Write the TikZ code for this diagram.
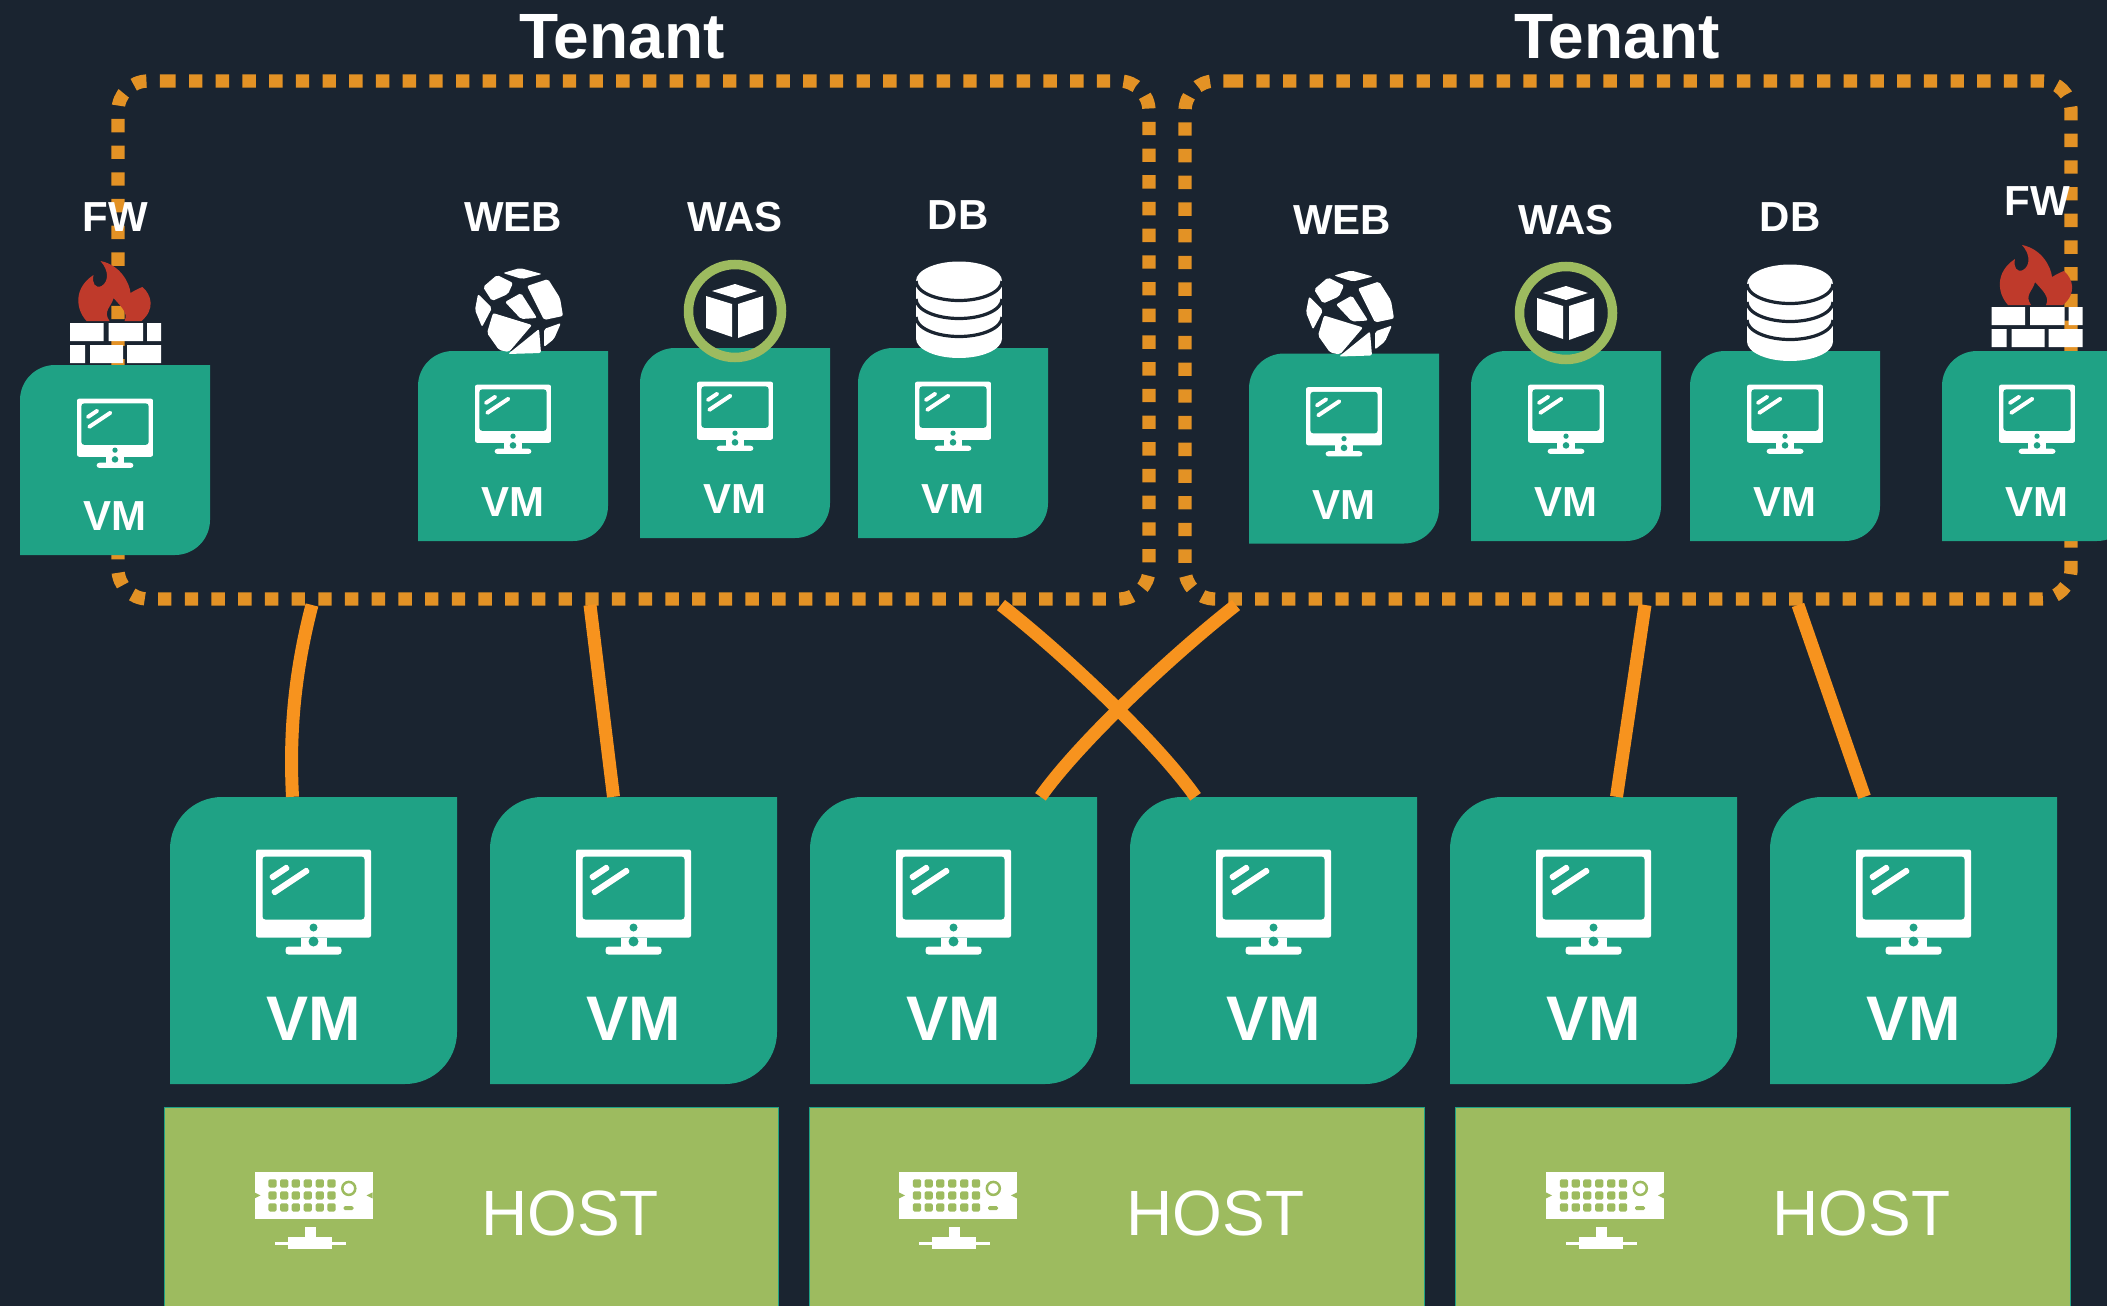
\documentclass[tikz,border=0pt]{standalone}
\usepackage{fontspec}
\setmainfont{Liberation Sans}

\definecolor{night}{HTML}{1A2430}
\definecolor{vmgreen}{HTML}{1FA285}
\definecolor{hostgreen}{HTML}{9DBB5F}
\definecolor{dotorange}{HTML}{E39225}
\definecolor{linkorange}{HTML}{F7931E}
\definecolor{firered}{HTML}{BF3A2B}

\newcommand{\tileshape}[1]{\fill[vmgreen] (path picture bounding box.north east) [rounded corners=#1]
    -- (path picture bounding box.south east) [sharp corners]
    -- (path picture bounding box.south west) [rounded corners=#1]
    -- (path picture bounding box.north west) [sharp corners] -- cycle;}

\tikzset{
    monitor/.pic={
        \fill[white,rounded corners=2] (-57.5,-52) rectangle (57.5,36);
        \fill[vmgreen,rounded corners=3] (-51,-45) rectangle (51,18);
        \fill[white] (-13,36) rectangle (13,46);
        \fill[white,rounded corners=3] (-28,45) rectangle (28,53);
        \fill[vmgreen] (0,26) circle (4) (0,40) circle (5);
        \fill[white,rounded corners=1.5] (-44.7,-25.5) -- (-26.7,-37.5) -- (-23.3,-32.5) -- (-41.3,-20.5) -- cycle;
        \fill[white,rounded corners=1.5] (-42.7,-10.5) -- (-6.7,-34.5) -- (-3.3,-29.5) -- (-39.3,-5.5) -- cycle;
    },
    rack/.pic={
        \fill[white] (-59,-23.5) rectangle (59,23.5);
        \fill[hostgreen] (-59,-3) -- (-53,0) -- (-59,3) -- cycle (59,-3) -- (53,0) -- (59,3) -- cycle;
        \foreach \cx in {-41,-29.3,-17.7,-5.7,6.3,18} {
            \foreach \cy in {-12,0,12} {
                \fill[hostgreen,rounded corners=1.5] (\cx-4.1,\cy-4.1) rectangle (\cx+4.1,\cy+4.1);
            }
        }
        \draw[hostgreen,line width=2.5pt] (35.3,-7) circle (6.5);
        \fill[hostgreen,rounded corners=1.5] (30,10.7) rectangle (40,14.7);
        \fill[white] (-9,32) rectangle (2,44);
        \fill[white] (-26,42) rectangle (18,54);
        \fill[white] (-39,47) rectangle (32,50);
    },
    firewall/.pic={
        \fill[firered] (-15,-62) .. controls (5,-58) and (14,-40) .. (15,-30)
            .. controls (20,-33) and (24,-35) .. (27,-36)
            .. controls (36,-28) and (40,-14) .. (26,-2) -- (9,-2)
            .. controls (13,-10) and (6,-16) .. (-2,-25)
            .. controls (-4,-16) and (-13,-12) .. (-6,-2) -- (-29,-2)
            .. controls (-40,-14) and (-42,-35) .. (-22,-48)
            .. controls (-24,-40) and (-20,-34) .. (-14,-37)
            .. controls (-7,-41) and (-6,-52) .. (-15,-62) -- cycle;
        \fill[white] (-45.5,0) rectangle (-12,18) (-7,0) rectangle (27.5,18) (31.5,0) rectangle (45.5,18);
        \fill[white] (-45.5,22) rectangle (-30.5,40) (-25.5,22) rectangle (7.5,40) (11.5,22) rectangle (45.5,40);
    },
    globe/.pic={
        \fill[white,rounded corners=2] (-16,-38) -- (1,-43) -- (23,-37) -- (3,-32) -- cycle;
        \fill[white,rounded corners=2] (-36,-24) -- (-22,-36) -- (-6,-28) -- (-11,-17) -- (-27,-10) -- cycle;
        \fill[white,rounded corners=2] (8,-25) -- (29,-32) -- (41,-13) -- (44,5) -- (25,9) -- (15,-11) -- cycle;
        \fill[white,rounded corners=2] (-14,-9) -- (2,-18) -- (18,7) -- (2,8) -- cycle;
        \fill[white,rounded corners=2] (-41,-17) -- (-27,-3) -- (-37,16) -- (-44,-1) -- cycle;
        \fill[white,rounded corners=2] (-26,2) -- (13,14) -- (-10,41) -- (-20,39) -- (-32,22) -- cycle;
        \fill[white,rounded corners=2] (20,18) -- (22,42) -- (-11,43) -- cycle;
        \fill[white,rounded corners=2] (25,18) -- (42,12) -- (35,28) -- (25,36) -- cycle;
    },
    cube/.pic={
        \draw[hostgreen,line width=9.5pt] (0,0) circle (46.5);
        \fill[white] (0,-27) -- (22,-20) -- (0,-13) -- (-23,-20) -- cycle;
        \fill[white] (-29,-15) -- (-3,-7) -- (-3,26) -- (-29,17) -- cycle;
        \fill[white] (3,-7) -- (28,-15) -- (28,18) -- (3,27) -- cycle;
    },
    dbstack/.pic={
        \fill[white] (0,-29) ellipse (43 and 19.5);
        \fill[white] (0,28.5) ellipse (43 and 19.5);
        \fill[white] (-43,-29) rectangle (43,28.5);
        \draw[night,line width=3.2pt] (-43,-29) arc[start angle=180,end angle=0,x radius=43,y radius=19.5];
        \draw[night,line width=3.2pt] (-43,-11) arc[start angle=180,end angle=0,x radius=43,y radius=19.5];
        \draw[night,line width=3.2pt] (-43,7) arc[start angle=180,end angle=0,x radius=43,y radius=19.5];
    }
}

\begin{document}
\begin{tikzpicture}[x=1pt,y=-1pt,node distance=320pt,
        vm big/.style={minimum width=287pt,minimum height=287pt,inner sep=0pt,text=white,text height=199pt,
            font=\fontsize{63}{63}\selectfont\bfseries,
            path picture={\tileshape{52pt}\pic at ([yshift=39pt]path picture bounding box.center) {monitor};}},
        vm small/.style={minimum width=190pt,minimum height=190pt,inner sep=0pt,text=white,text height=141pt,
            font=\fontsize{42}{42}\selectfont\bfseries,
            path picture={\tileshape{35pt}\pic[scale=.66] at ([yshift=27pt]path picture bounding box.center) {monitor};}},
        host box/.style={minimum height=199pt,inner sep=0pt,fill=hostgreen,draw=vmgreen,line width=.8pt,text=white,
            text height=58pt,font=\fontsize{64}{64}\selectfont,execute at begin node=\hspace*{198pt}},
        tenant box/.style={inner sep=0pt,outer sep=0pt,minimum height=518pt},
        tenant frame/.style={draw=dotorange,line width=13.3pt,dash pattern=on 13.4pt off 13.3pt,rounded corners=30pt},
        tenant title/.style={text=white,font=\fontsize{64}{64}\selectfont\bfseries},
        tier label/.style={text=white,font=\fontsize{42}{42}\selectfont\bfseries},
        link/.style={draw=linkorange,line width=13pt}]

    \useasboundingbox (0,0) rectangle (2107,1306);
    \clip (0,0) rectangle (2107,1306);
    \fill[night] (0,0) rectangle (2107,1306);

    % Tenant frames
    \node[tenant box,minimum width=1031pt] (tenant1) at (633.5,340) {};
    \node[tenant box,minimum width=886pt] (tenant2) at (1628,340) {};
    \draw[tenant frame] ([xshift=44.3pt]tenant1.north west) -- (tenant1.north east) -- (tenant1.south east) -- (tenant1.south west) -- (tenant1.north west) -- ([xshift=44.3pt]tenant1.north west);
    \draw[tenant frame] ([xshift=44.6pt]tenant2.north west) -- (tenant2.north east) -- (tenant2.south east) -- (tenant2.south west) -- (tenant2.north west) -- ([xshift=44.6pt]tenant2.north west);
    \node[tenant title] (title1) at (622,37) {Tenant};
    \node[tenant title] (title2) at (1617,37) {Tenant};

    % Lower row of VMs
    \node[vm big] (vm1) at (313.5,940.5) {VM};
    \node[vm big] (vm2) [right of=vm1] {VM};
    \node[vm big] (vm3) [right of=vm2] {VM};
    \node[vm big] (vm4) [right of=vm3] {VM};
    \node[vm big] (vm5) [right of=vm4] {VM};
    \node[vm big] (vm6) [right of=vm5] {VM};

    % Hosts
    \node[host box,minimum width=614pt] (host1) at (471,1206.5) {HOST};
    \node[host box,minimum width=615pt] (host2) at (1116.5,1206.5) {HOST};
    \node[host box,minimum width=615pt] (host3) at (1762.5,1206.5) {HOST};
    \pic at ([xshift=-157.5pt,yshift=11.1pt]host1.center) {rack};
    \pic at ([xshift=-158.5pt,yshift=11.1pt]host2.center) {rack};
    \pic at ([xshift=-157.5pt,yshift=11.1pt]host3.center) {rack};

    % Draw links
    \draw[link] ([xshift=-321.5pt,yshift=-6pt]tenant1.south) .. controls +(-19,73) and +(-3,-57) .. ([xshift=-21pt]vm1.north);
    \draw[link] ([xshift=-43.5pt,yshift=-6pt]tenant1.south) -- ([xshift=-20pt]vm2.north);
    \draw[link] ([xshift=367.5pt,yshift=-6pt]tenant1.south) .. controls +(70,55) and +(-35,-50) .. ([xshift=-78pt]vm4.north);
    \draw[link] ([xshift=-392pt,yshift=-6pt]tenant2.south) .. controls +(-70,55) and +(35,-50) .. ([xshift=87pt]vm3.north);
    \draw[link] ([xshift=17pt,yshift=-6pt]tenant2.south) -- ([xshift=23pt]vm5.north);
    \draw[link] ([xshift=170pt,yshift=-6pt]tenant2.south) -- ([xshift=-49pt]vm6.north);

    % Upper VMs, left tenant
    \node[vm small] (fw1) at (115,460) {VM};
    \node[vm small] (web1) at (513,446) {VM};
    \node[vm small] (was1) at (735,443) {VM};
    \node[vm small] (db1) at (953,443) {VM};
    \pic at (115.5,323) {firewall};
    \pic at (519,311) {globe};
    \pic at (735,311) {cube};
    \pic at (959,310) {dbstack};
    \node[tier label] (fwname1) at (115,217) {FW};
    \node[tier label] (webname1) at (513,217) {WEB};
    \node[tier label] (wasname1) at (735,217) {WAS};
    \node[tier label] (dbname1) at (958,215) {DB};

    % Upper VMs, right tenant
    \node[vm small] (web2) at (1344,448.5) {VM};
    \node[vm small] (was2) at (1566,446) {VM};
    \node[vm small] (db2) at (1785,446) {VM};
    \node[vm small] (fw2) at (2037,446) {VM};
    \pic at (1350,313.5) {globe};
    \pic at (1566,313) {cube};
    \pic at (1790,313) {dbstack};
    \pic at (2037,307) {firewall};
    \node[tier label] (webname2) at (1342,220) {WEB};
    \node[tier label] (wasname2) at (1566,220) {WAS};
    \node[tier label] (dbname2) at (1790,217) {DB};
    \node[tier label] (fwname2) at (2037,201) {FW};

\end{tikzpicture}
\end{document}
